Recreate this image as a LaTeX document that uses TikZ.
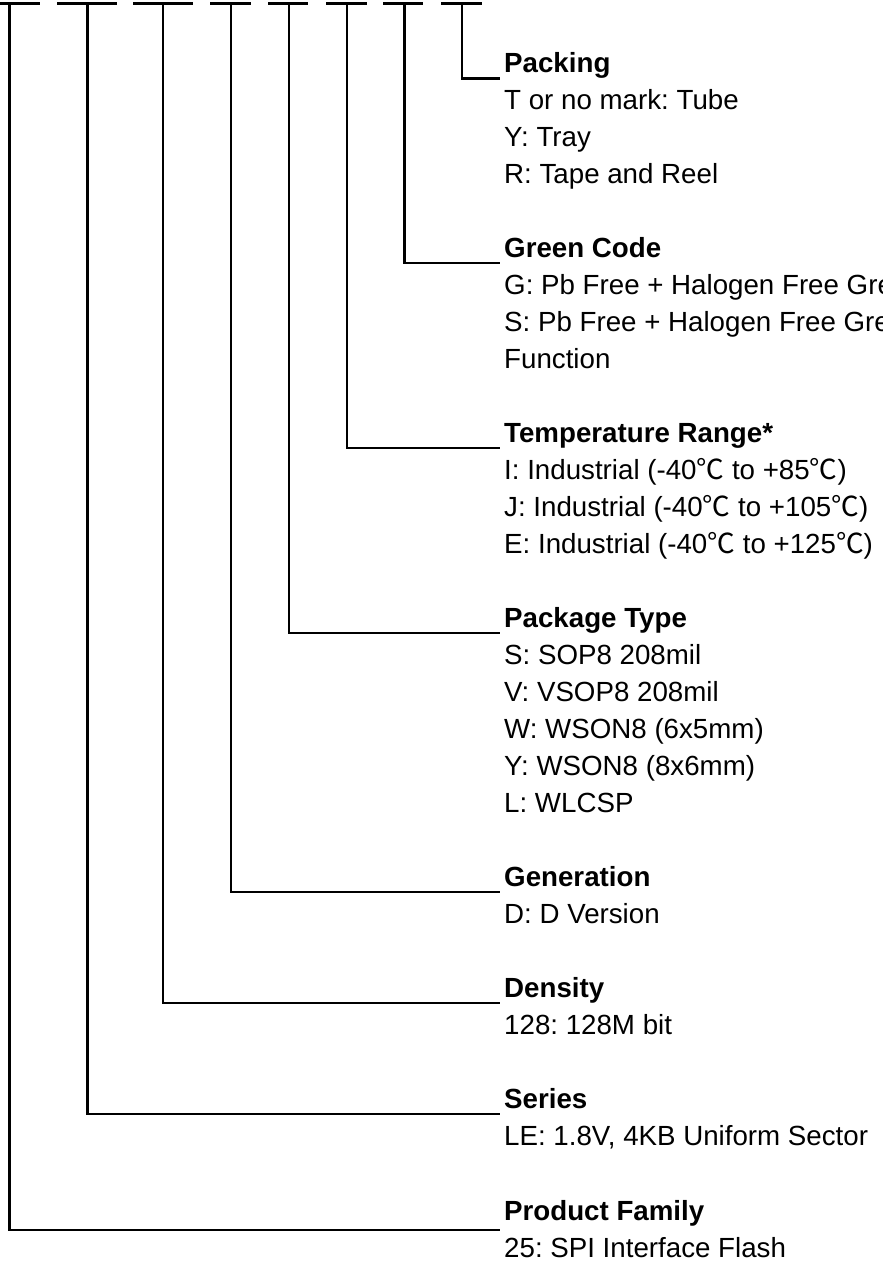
\documentclass[tikz,border=0pt]{standalone}
\usepackage{fontspec}
\setmainfont{Liberation Sans}
\newfontfamily\cjk{Noto Sans CJK SC}
\newcommand{\degc}{{\cjk ℃}}
\frenchspacing
\begin{document}
\begin{tikzpicture}[x=1pt,y=-1pt,
  wire/.style={line width=2.6pt, line cap=butt, line join=miter},
  ttl/.style={font=\fontsize{27.7pt}{37pt}\selectfont\bfseries\frenchspacing, anchor=base west, inner sep=0pt},
  itm/.style={font=\fontsize{27.7pt}{37pt}\selectfont\frenchspacing, anchor=base west, inner sep=0pt}]
\useasboundingbox (0,0) rectangle (883,1270);
% top dashes
\coordinate (d1a) at (0,3.7);   \coordinate (d1b) at (40,3.7);  \coordinate (v1) at (9.5,3.7);
\coordinate (d2a) at (57,3.7);  \coordinate (d2b) at (117,3.7); \coordinate (v2) at (87.5,3.7);
\coordinate (d3a) at (133,3.7); \coordinate (d3b) at (193,3.7); \coordinate (v3) at (163,3.7);
\coordinate (d4a) at (210,3.7); \coordinate (d4b) at (251,3.7); \coordinate (v4) at (231,3.7);
\coordinate (d5a) at (268,3.7); \coordinate (d5b) at (308,3.7); \coordinate (v5) at (289,3.7);
\coordinate (d6a) at (326,3.7); \coordinate (d6b) at (367,3.7); \coordinate (v6) at (347,3.7);
\coordinate (d7a) at (383,3.7); \coordinate (d7b) at (423,3.7); \coordinate (v7) at (404.5,3.7);
\coordinate (d8a) at (441,3.7); \coordinate (d8b) at (482,3.7); \coordinate (v8) at (462,3.7);
\foreach \i in {1,...,8} {\draw[wire] (d\i a) -- (d\i b);}
% line ends
\coordinate (e8) at (500,78.5);
\coordinate (e7) at (500,263);
\coordinate (e6) at (500,448);
\coordinate (e5) at (500,633);
\coordinate (e4) at (500,892);
\coordinate (e3) at (500,1003);
\coordinate (e2) at (500,1114);
\coordinate (e1) at (500,1230);
\foreach \i in {1,...,8} {\draw[wire] (v\i) |- (e\i);}
% texts
\node[ttl] (pk) at (504,72) {Packing};
\node[itm] (pk1) at (504,109) {T or no mark: Tube};
\node[itm] (pk2) at (504,146) {Y: Tray};
\node[itm] (pk3) at (504,183) {R: Tape and Reel};
\node[ttl] (gc) at (504,257) {Green Code};
\node[itm] (gc1) at (504,294) {G: Pb Free + Halogen Free Green};
\node[itm] (gc2) at (504,331) {S: Pb Free + Halogen Free Green};
\node[itm] (gc3) at (504,368) {Function};
\node[ttl] (tr) at (504,442) {Temperature Range*};
\node[itm] (tr1) at (504,479) {I: Industrial (-40\degc{} to +85\degc)};
\node[itm] (tr2) at (504,516) {J: Industrial (-40\degc{} to +105\degc)};
\node[itm] (tr3) at (504,553) {E: Industrial (-40\degc{} to +125\degc)};
\node[ttl] (pt) at (504,627) {Package Type};
\node[itm] (pt1) at (504,664) {S: SOP8 208mil};
\node[itm] (pt2) at (504,701) {V: VSOP8 208mil};
\node[itm] (pt3) at (504,738) {W: WSON8 (6x5mm)};
\node[itm] (pt4) at (504,775) {Y: WSON8 (8x6mm)};
\node[itm] (pt5) at (504,812) {L: WLCSP};
\node[ttl] (gn) at (504,886) {Generation};
\node[itm] (gn1) at (504,923) {D: D Version};
\node[ttl] (dn) at (504,997) {Density};
\node[itm] (dn1) at (504,1034) {128: 128M bit};
\node[ttl] (sr) at (504,1108) {Series};
\node[itm] (sr1) at (504,1145) {LE: 1.8V, 4KB Uniform Sector};
\node[ttl] (pf) at (504,1220) {Product Family};
\node[itm] (pf1) at (504,1257) {25: SPI Interface Flash};
\end{tikzpicture}
\end{document}
